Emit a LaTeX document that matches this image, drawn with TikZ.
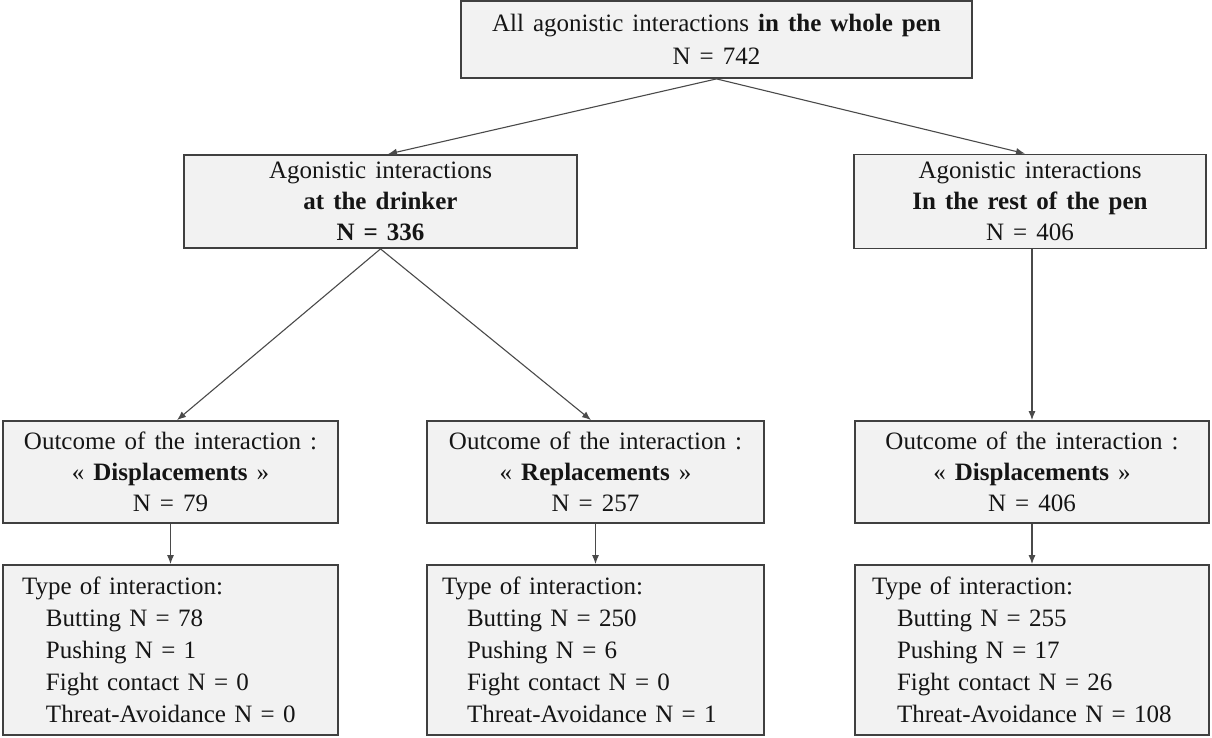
\documentclass[tikz,border=0pt]{standalone}
\usepackage{fontspec}
\setmainfont[WordSpace=1.45]{Liberation Serif}
\usetikzlibrary{arrows.meta,calc}
\definecolor{boxfill}{HTML}{F2F2F2}
\definecolor{boxline}{HTML}{404040}
\definecolor{connline}{HTML}{4A4A4A}
\definecolor{txt}{HTML}{151515}
\begin{document}
\begin{tikzpicture}[x=1pt,y=-1pt,
  box/.style={draw=boxline,fill=boxfill,line width=1.8pt,inner sep=0pt,align=center,
    text=txt,font=\fontsize{25}{31}\selectfont},
  typebox/.style={box,align=left,inner ysep=0pt,minimum height=170pt,font=\fontsize{25}{32}\selectfont},
  conn/.style={draw=connline,line width=1.1pt,-{Latex[length=9pt,width=7pt]}}
]
\fill[white] (0,0) rectangle (1212,737);
\useasboundingbox (0,0) rectangle (1212,737);

% level 1
\node[box,minimum width=511pt,minimum height=77pt,font=\fontsize{25}{33}\selectfont]
  (top) at (716.5,39.5) {All agonistic interactions \textbf{in the whole pen}\\N = 742};

% level 2
\node[box,minimum width=393pt,minimum height=93pt] (drink) at (380.5,201.5)
  {Agonistic interactions\\\textbf{at the drinker}\\\textbf{N = 336}};
\node[box,minimum width=352pt,minimum height=94pt] (rest) at (1030,201.5)
  {Agonistic interactions\\\textbf{In the rest of the pen}\\N = 406};

% level 3
\node[box,minimum width=335pt,minimum height=102pt] (out1) at (170.5,472)
  {Outcome of the interaction :\\« \textbf{Displacements} »\\N = 79};
\node[box,minimum width=337pt,minimum height=102pt] (out2) at (595.5,472)
  {Outcome of the interaction :\\« \textbf{Replacements} »\\N = 257};
\node[box,minimum width=354pt,minimum height=102pt] (out3) at (1032,472)
  {Outcome of the interaction :\\« \textbf{Displacements} »\\N = 406};

% level 4
\node[typebox,inner xsep=19pt,text width=297pt] (type1) at (170.5,650)
  {Type of interaction:\\\hspace*{24pt}Butting N = 78\\\hspace*{24pt}Pushing N = 1\\\hspace*{24pt}Fight contact N = 0\\\hspace*{24pt}Threat-Avoidance N = 0};
\node[typebox,inner xsep=15pt,text width=307pt] (type2) at (595.5,650)
  {Type of interaction:\\\hspace*{25pt}Butting N = 250\\\hspace*{25pt}Pushing N = 6\\\hspace*{25pt}Fight contact N = 0\\\hspace*{25pt}Threat-Avoidance N = 1};
\node[typebox,inner xsep=17pt,text width=320pt] (type3) at (1032,650)
  {Type of interaction:\\\hspace*{25pt}Butting N = 255\\\hspace*{25pt}Pushing N = 17\\\hspace*{25pt}Fight contact N = 26\\\hspace*{25pt}Threat-Avoidance N = 108};

% connectors
\draw[conn] (top.south) -- ([xshift=7.5pt]drink.north);
\draw[conn] (top.south) -- ([xshift=-5pt]rest.north);
\draw[conn] (drink.south) -- ([xshift=6.5pt]out1.north);
\draw[conn] (drink.south) -- ([xshift=-4.5pt]out2.north);
\draw[conn] (rest.south -| out3.north) -- (out3.north);
\draw[conn] (out1.south) -- (type1.north);
\draw[conn] (out2.south) -- (type2.north);
\draw[conn] (out3.south) -- (type3.north);
\end{tikzpicture}
\end{document}
